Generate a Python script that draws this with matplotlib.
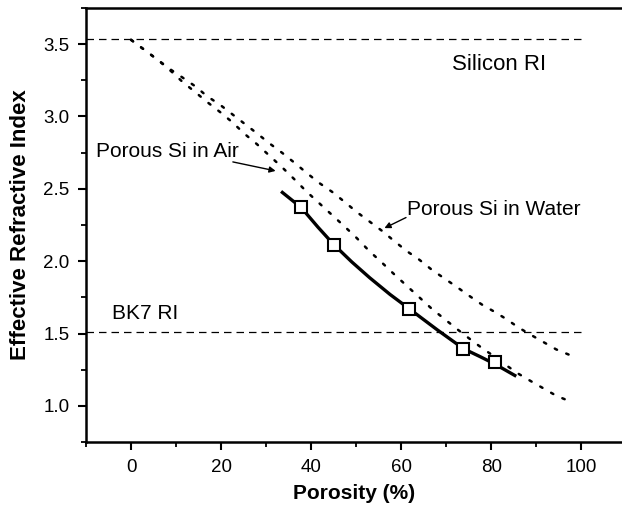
import numpy as np
import matplotlib.pyplot as plt
from matplotlib.ticker import MultipleLocator

plt.rcParams['font.family'] = ['Liberation Sans', 'DejaVu Sans']

# porous Si in air (effective medium, dotted)
p_air = [0, 3, 6, 9, 11.4, 14.2, 16.9, 19.8, 22.5, 25.2, 27.9, 30.7, 33.5, 36.3,
         39, 41.8, 44.6, 47.4, 50.1, 52.9, 55.7, 58.4, 61.2, 64, 66.8, 69.6,
         72.4, 75.1, 77.9, 80.7, 83.3, 86.1, 88.8, 91.6, 94.4, 97.5]
n_air = [3.53, 3.46, 3.39, 3.31, 3.24, 3.17, 3.10, 3.03, 2.96, 2.88, 2.81, 2.73,
         2.65, 2.565, 2.48, 2.40, 2.32, 2.24, 2.16, 2.07, 1.99, 1.91, 1.83, 1.75,
         1.67, 1.60, 1.53, 1.465, 1.40, 1.34, 1.28, 1.22, 1.17, 1.12, 1.07, 1.03]

# porous Si in water
p_water = p_air
n_water = [3.53, 3.46, 3.39, 3.32, 3.27, 3.21, 3.14, 3.08, 3.015, 2.95, 2.885,
           2.815, 2.75, 2.68, 2.61, 2.54, 2.48, 2.41, 2.34, 2.275, 2.21, 2.14,
           2.07, 2.01, 1.94, 1.88, 1.82, 1.76, 1.70, 1.65, 1.60, 1.54, 1.49,
           1.44, 1.39, 1.35]

# measured points and fit
p_meas = [37.8, 45.0, 61.8, 73.8, 80.7]
n_meas = [2.376, 2.11, 1.67, 1.39, 1.30]
p_fit = [33.6, 37.8, 41.5, 45.0, 49.0, 53.0, 57.5, 61.8, 68.0, 73.8, 77.5, 80.7, 85.2]
n_fit = [2.475, 2.37, 2.235, 2.115, 1.995, 1.885, 1.77, 1.67, 1.525, 1.395, 1.34, 1.29, 1.21]

si_ri = 3.535
bk7_ri = 1.51

fig = plt.figure(figsize=(6.22, 5.11), dpi=100)
ax = fig.add_axes([86 / 622, 69 / 511, 536 / 622, 434 / 511])

ax.plot([-10, 101], [si_ri, si_ri], color='black', lw=0.9, linestyle=(0, (6, 4)))
ax.plot([-10, 100], [bk7_ri, bk7_ri], color='black', lw=0.9, linestyle=(0, (6, 4)))

ax.plot(p_air, n_air, color='black', lw=1.8, linestyle=(0, (1, 4)),
        dash_capstyle='round')
ax.plot(p_water, n_water, color='black', lw=1.8, linestyle=(0, (1, 4)),
        dash_capstyle='round')

ax.plot(p_fit, n_fit, color='black', lw=2.4)
ax.plot(p_meas, n_meas, linestyle='none', marker='s', ms=8.5,
        mfc='white', mec='black', mew=1.5)

ax.text(71.3, 3.36, 'Silicon RI', fontsize=16, va='center', ha='left')
ax.text(-4.3, 1.64, 'BK7 RI', fontsize=15, va='center', ha='left')
ax.text(-7.8, 2.76, 'Porous Si in Air', fontsize=15, va='center', ha='left')
ax.text(61.3, 2.36, 'Porous Si in Water', fontsize=15, va='center', ha='left')
ax.annotate('', xy=(32.7, 2.62), xytext=(22, 2.69),
            arrowprops=dict(arrowstyle='-|>', color='black', lw=1.0,
                            mutation_scale=9))
ax.annotate('', xy=(55.7, 2.22), xytext=(61.6, 2.31),
            arrowprops=dict(arrowstyle='-|>', color='black', lw=1.0,
                            mutation_scale=9))

ax.set_xlim(-10, 109)
ax.set_ylim(0.75, 3.75)
ax.xaxis.set_minor_locator(MultipleLocator(10))
ax.yaxis.set_minor_locator(MultipleLocator(0.25))
ax.set_xticks([0, 20, 40, 60, 80, 100])
ax.set_yticks([1.0, 1.5, 2.0, 2.5, 3.0, 3.5])

ax.spines['right'].set_visible(False)
for s in ['left', 'bottom', 'top']:
    ax.spines[s].set_linewidth(1.8)
ax.tick_params(which='major', direction='out', length=6, width=1.5,
               labelsize=13.5, pad=6)
ax.tick_params(which='minor', direction='out', length=3.5, width=1.3)

ax.set_xlabel('Porosity (%)', fontsize=15, fontweight='bold', labelpad=6)
ax.set_ylabel('Effective Refractive Index', fontsize=16, fontweight='bold',
              labelpad=9)

fig.savefig('out.png', dpi=100)
